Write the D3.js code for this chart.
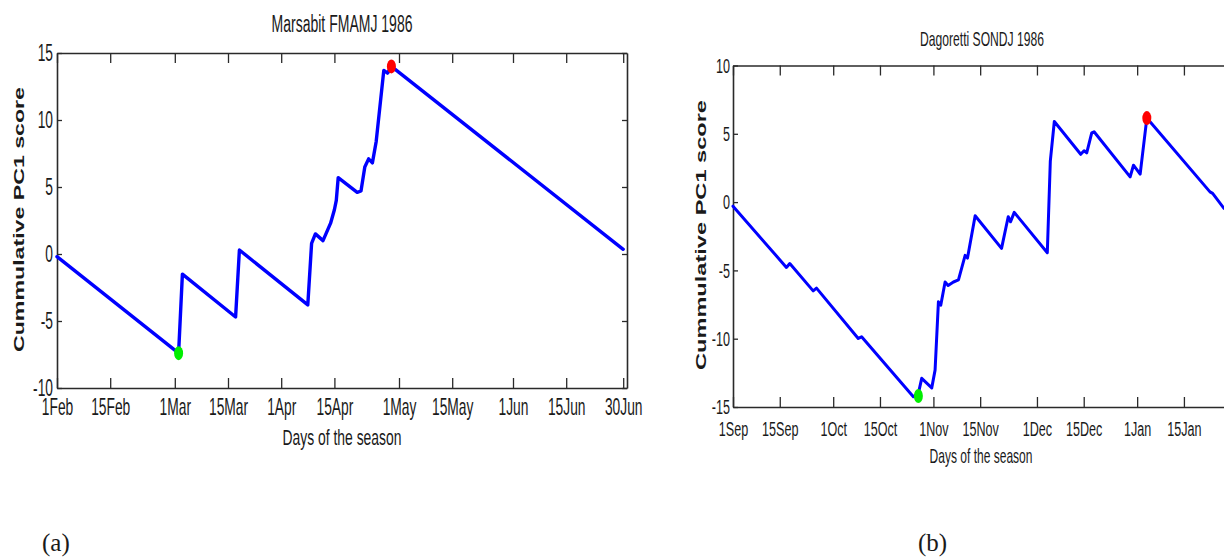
<!DOCTYPE html>
<html>
<head>
<meta charset="utf-8">
<script src="https://cdn.jsdelivr.net/npm/d3@7"></script>
<style>
  html, body { margin: 0; padding: 0; background: #fff; }
  svg { display: block; }
  text { fill: #1a1a1a; font-family: "Liberation Sans", Arial, sans-serif; }
</style>
</head>
<body>
<svg id="chart" width="1224" height="560"></svg>
<script>
// ---------- Panel (a): Marsabit FMAMJ 1986 ----------
const marsabitDays   = [0, 32, 33, 47, 48, 66, 67, 68, 70, 72, 73, 73.5, 74, 79, 80, 81, 82, 83, 84, 86, 87, 88, 149];
const marsabitScores = [-0.2, -7.4, -1.5, -4.7, 0.3, -3.8, 0.8, 1.5, 1.0, 2.3, 3.3, 4.0, 5.7, 4.6, 4.7, 6.5, 7.1, 6.8, 8.4, 13.7, 13.5, 14.0, 0.35];
const marsabitOnset  = [32, -7.4];   // green point
const marsabitPeak   = [88, 14.0];   // red point
const marsabitTickDays   = [0, 14, 31, 45, 59, 73, 90, 104, 120, 134, 149];
const marsabitTickLabels = ["1Feb", "15Feb", "1Mar", "15Mar", "1Apr", "15Apr", "1May", "15May", "1Jun", "15Jun", "30Jun"];
const marsabitYTicks = [-10, -5, 0, 5, 10, 15];

// ---------- Panel (b): Dagoretti SONDJ 1986 ----------
const dagorettiDays   = [0, 16, 17, 24, 25, 37.5, 38.5, 54, 55.5, 56.5, 59.5, 60.5, 61.5, 62.2, 63.5, 64.4, 66, 67.5, 69.5, 70.2, 72.5, 80.4, 82.4, 83.1, 84.2, 94.1, 95, 96.2, 104.1, 105.1, 105.9, 107.4, 108.1, 118.9, 119.9, 121.9, 123.9, 142.8, 143.6, 147];
const dagorettiScores = [-0.3, -4.78, -4.5, -6.5, -6.3, -9.98, -9.86, -14.25, -14.0, -12.9, -13.6, -12.3, -7.3, -7.55, -5.85, -6.1, -5.85, -5.7, -3.9, -4.1, -1.0, -3.39, -1.07, -1.44, -0.75, -3.71, 3.0, 5.9, 3.5, 3.76, 3.6, 5.07, 5.15, 1.85, 2.7, 2.05, 6.15, 0.75, 0.64, -0.46];
const dagorettiOnset  = [55.5, -14.2];
const dagorettiPeak   = [123.9, 6.15];
const dagorettiTickDays   = [0, 14, 30, 44, 60, 74, 91, 105, 121, 135];
const dagorettiTickLabels = ["1Sep", "15Sep", "1Oct", "15Oct", "1Nov", "15Nov", "1Dec", "15Dec", "1Jan", "15Jan"];
const dagorettiYTicks = [-15, -10, -5, 0, 5, 10];

const svg = d3.select("#chart");

function panel(cfg) {
  const x = d3.scaleLinear().domain(cfg.xDomain).range([cfg.left, cfg.right]);
  const y = d3.scaleLinear().domain(cfg.yDomain).range([cfg.bottom, cfg.top]);
  const g = svg.append("g");
  const lab = d => cfg.tickLabels[cfg.tickDays.indexOf(d)];

  // bottom axis
  const gb = g.append("g").attr("transform", `translate(0,${cfg.bottom})`)
    .call(d3.axisBottom(x).tickValues(cfg.tickDays).tickFormat(lab)
      .tickSize(-cfg.xTick).tickSizeOuter(0).tickPadding(cfg.xPad));
  // top axis
  const gt = g.append("g").attr("transform", `translate(0,${cfg.top})`)
    .call(d3.axisTop(x).tickValues(cfg.tickDays).tickFormat("")
      .tickSize(-cfg.xTick).tickSizeOuter(0));
  // left axis
  const gl = g.append("g").attr("transform", `translate(${cfg.left},0)`)
    .call(d3.axisLeft(y).tickValues(cfg.yTicks).tickFormat(d => String(d))
      .tickSize(-cfg.yTick).tickSizeOuter(0).tickPadding(cfg.yPad));
  const axes = [gb, gt, gl];
  if (cfg.rightAxis) {
    const gr = g.append("g").attr("transform", `translate(${cfg.right},0)`)
      .call(d3.axisRight(y).tickValues(cfg.yTicks).tickFormat("")
        .tickSize(-cfg.yTick).tickSizeOuter(0));
    axes.push(gr);
  }
  axes.forEach(a => {
    a.select(".domain").attr("stroke", "#2a2a2a").attr("stroke-width", 1.6);
    a.selectAll(".tick line").attr("stroke", "#2a2a2a").attr("stroke-width", 1.3);
    a.selectAll("text").attr("fill", "#1a1a1a")
      .style("font-family", '"Liberation Sans", Arial, sans-serif')
      .style("font-size", cfg.tickFont + "px")
      .attr("transform", `scale(${cfg.squeeze},1)`);
  });

  // line
  const pts = cfg.days.map((d, i) => [d, cfg.scores[i]]);
  g.append("path").datum(pts)
    .attr("fill", "none").attr("stroke", "#0000ff")
    .attr("stroke-width", cfg.lineW).attr("stroke-linejoin", "round").attr("stroke-linecap", "round")
    .attr("d", d3.line().x(d => x(d[0])).y(d => y(d[1])));

  // markers
  [[cfg.onset, "#00ee00"], [cfg.peak, "#ff0000"]].forEach(([p, c]) => {
    g.append("ellipse").attr("cx", x(p[0])).attr("cy", y(p[1]))
      .attr("rx", 4.5).attr("ry", 7).attr("fill", c);
  });

  // title
  g.append("text").attr("x", cfg.title.cx).attr("y", cfg.title.y)
    .attr("text-anchor", "middle").style("font-size", cfg.title.size + "px")
    .attr("textLength", cfg.title.w).attr("lengthAdjust", "spacingAndGlyphs")
    .text(cfg.title.text);
  // x label
  g.append("text").attr("x", cfg.xlab.cx).attr("y", cfg.xlab.y)
    .attr("text-anchor", "middle").style("font-size", cfg.xlab.size + "px")
    .attr("textLength", cfg.xlab.w).attr("lengthAdjust", "spacingAndGlyphs")
    .text("Days of the season");
  // y label
  g.append("text")
    .attr("transform", `translate(${cfg.ylab.x},${cfg.ylab.cy}) rotate(-90)`)
    .attr("text-anchor", "middle").style("font-size", "15.5px").style("font-weight", "bold")
    .attr("textLength", cfg.ylab.w).attr("lengthAdjust", "spacingAndGlyphs")
    .text("Cummulative PC1 score");
}

panel({
  left: 57, right: 627, top: 53, bottom: 388,
  xDomain: [0, 150], yDomain: [-10, 15],
  days: marsabitDays, scores: marsabitScores, onset: marsabitOnset, peak: marsabitPeak,
  tickDays: marsabitTickDays, tickLabels: marsabitTickLabels, yTicks: marsabitYTicks,
  xTick: 10, yTick: 5, xPad: 11, yPad: 6.7, tickFont: 23, squeeze: 0.6, lineW: 3.4,
  rightAxis: true,
  title: { text: "Marsabit FMAMJ 1986", cx: 342, y: 32, w: 141, size: 23 },
  xlab: { cx: 342, y: 445, w: 119, size: 22 },
  ylab: { x: 24, cy: 219.5, w: 265 }
});

panel({
  left: 733, right: 1224, top: 65.5, bottom: 407,
  xDomain: [0, 147], yDomain: [-15, 10],
  days: dagorettiDays, scores: dagorettiScores, onset: dagorettiOnset, peak: dagorettiPeak,
  tickDays: dagorettiTickDays, tickLabels: dagorettiTickLabels, yTicks: dagorettiYTicks,
  xTick: 10, yTick: 5, xPad: 14.5, yPad: 5, tickFont: 21, squeeze: 0.6, lineW: 3,
  rightAxis: false,
  title: { text: "Dagoretti SONDJ 1986", cx: 982, y: 45.5, w: 124, size: 21 },
  xlab: { cx: 981, y: 463, w: 103, size: 21 },
  ylab: { x: 706, cy: 235, w: 270 }
});

// sub-figure labels
svg.append("text").attr("x", 42).attr("y", 551)
  .style("font-family", '"Liberation Serif", "Times New Roman", serif').style("font-size", "25px")
  .attr("fill", "#000").text("(a)");
svg.append("text").attr("x", 918).attr("y", 551)
  .style("font-family", '"Liberation Serif", "Times New Roman", serif').style("font-size", "25px")
  .attr("fill", "#000").text("(b)");
</script>
</body>
</html>
